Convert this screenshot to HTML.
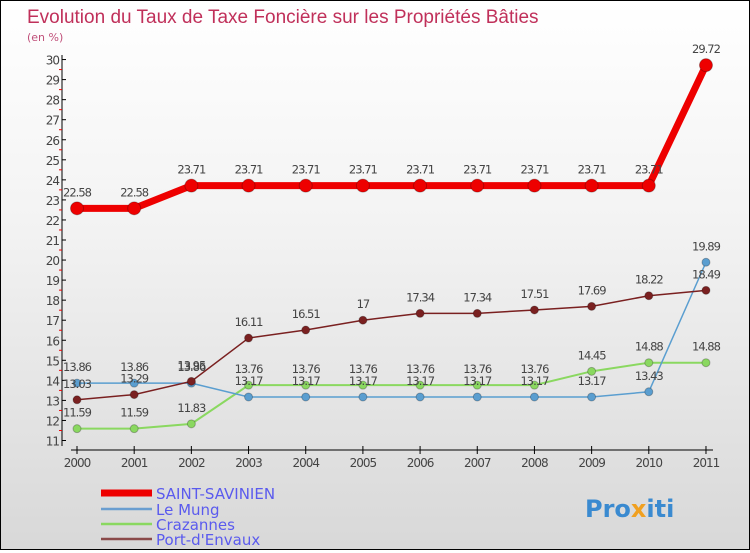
<!DOCTYPE html>
<html><head><meta charset="utf-8"><style>
body{margin:0}
#c{width:748px;height:548px;border:1px solid #000;background:linear-gradient(#fff,#f3f3f3 40%,#d8d8d8);position:relative;font-family:"DejaVu Sans","Liberation Sans",sans-serif}
</style></head><body>
<div id="c">
<svg id="s" width="748" height="548">
<text x="26" y="22" font-size="19" fill="#c0305a" font-family="Liberation Sans,sans-serif">Evolution du Taux de Taxe Foncière sur les Propriétés Bâties</text>
<text x="26" y="40" font-size="11" fill="#c0507a">(en %)</text>
<g id="ax"></g><g id="ser"></g>
<g>
<line x1="100" y1="492" x2="151" y2="492" stroke="#e00" stroke-width="7"/>
<text x="155" y="498" font-size="15" fill="#5a5aee">SAINT-SAVINIEN</text>
<line x1="100" y1="508" x2="151" y2="508" stroke="#6a9ed0" stroke-width="2.5"/>
<text x="155" y="514" font-size="15" fill="#5a5aee">Le Mung</text>
<line x1="100" y1="523" x2="151" y2="523" stroke="#8ad860" stroke-width="2.5"/>
<text x="155" y="529" font-size="15" fill="#5a5aee">Crazannes</text>
<line x1="100" y1="538" x2="151" y2="538" stroke="#8a4a4a" stroke-width="2.5"/>
<text x="155" y="544" font-size="15" fill="#5a5aee">Port-d'Envaux</text>
</g>
<text x="584" y="516" font-size="24" font-weight="bold" fill="#3a8ad0">Pro<tspan fill="#f0a020">x</tspan>iti</text>
</svg></div>
<script>
const years=[2000,2001,2002,2003,2004,2005,2006,2007,2008,2009,2010,2011];
const saint=[22.58,22.58,23.71,23.71,23.71,23.71,23.71,23.71,23.71,23.71,23.71,29.72];
const mung=[13.86,13.86,13.86,13.17,13.17,13.17,13.17,13.17,13.17,13.17,13.43,19.89];
const craz=[11.59,11.59,11.83,13.76,13.76,13.76,13.76,13.76,13.76,14.45,14.88,14.88];
const port=[13.03,13.29,13.95,16.11,16.51,17,17.34,17.34,17.51,17.69,18.22,18.49];
const yTicks=[11,12,13,14,15,16,17,18,19,20,21,22,23,24,25,26,27,28,29,30];
const NS="http://www.w3.org/2000/svg";
const X=i=>76+i*57.18, Y=v=>439.5-(v-11)*20.05;
function mk(t,a,p){const e=document.createElementNS(NS,t);for(const k in a)e.setAttribute(k,a[k]);p.appendChild(e);return e;}
const ax=document.getElementById('ax'),ser=document.getElementById('ser');
let l=mk('line',{x1:61,y1:54,x2:61,y2:445,stroke:'#000'},ax);


l=mk('line',{x1:70,y1:449,x2:712,y2:449,stroke:'#000'},ax);


yTicks.forEach(v=>{
 mk('line',{x1:61,y1:Y(v),x2:65,y2:Y(v),stroke:'#000'},ax);
 if(v<30)mk('line',{x1:58,y1:Y(v+0.5),x2:61,y2:Y(v+0.5),stroke:'#e00'},ax);
 const t=mk('text',{x:58,y:Y(v)+5,'text-anchor':'end','font-size':12,fill:'#444','letter-spacing':'-1'},ax);t.textContent=v;
 
 
});
years.forEach((y,i)=>{
 mk('line',{x1:X(i),y1:445,x2:X(i),y2:453,stroke:'#000'},ax);
 const t=mk('text',{x:X(i),y:466,'text-anchor':'middle','font-size':12,fill:'#444','letter-spacing':'-1'},ax);t.textContent=y;
 
 
});
function series(d,col,w,r,name){
 const g=mk('g',{},ser);
 
 
 mk('polyline',{points:d.map((v,i)=>X(i)+','+Y(v)).join(' '),fill:'none',stroke:col,'stroke-width':w},g);
 d.forEach((v,i)=>{
  const c=mk('circle',{cx:X(i),cy:Y(v),r:r,fill:col,stroke:'rgba(0,0,0,0.25)'},g);
  
  
  const t=mk('text',{x:X(i),y:Y(v)-12,'text-anchor':'middle','font-size':11.5,fill:'#444','letter-spacing':'-1'},g);t.textContent=v;
  
  
 });
}
series(craz,'#8ad860',2,4,'crazannes-series');
series(mung,'#5a9ed0',1.5,4,'le-mung-series');
series(port,'#7a2020',1.5,4,'port-denvaux-series');
series(saint,'#e00',7,6.5,'saint-savinien-series');
</script>
</body></html>
